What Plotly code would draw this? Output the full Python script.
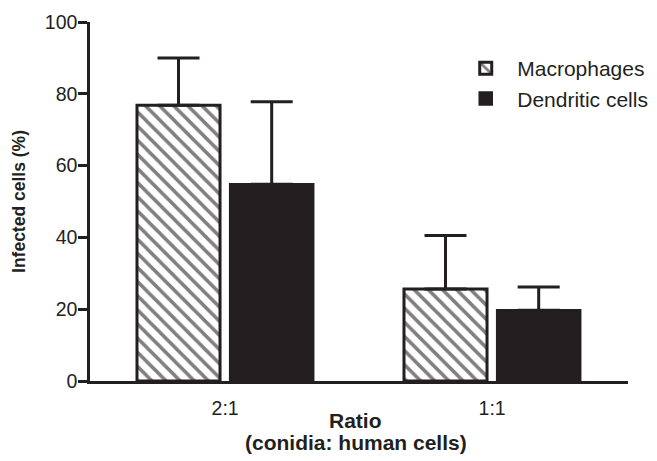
import plotly.graph_objects as go

categories = ["2:1", "1:1"]
macrophages = [76.8, 25.6]
macrophages_err = [13.2, 14.9]
dendritic = [54.8, 19.7]
dendritic_err = [23.0, 6.5]
y_ticks = [0, 20, 40, 60, 80, 100]
x_title_lines = ["<b>Ratio</b>", "<b>(conidia: human cells)</b>"]

INK = "#231f20"
FONT = "Liberation Sans, Arial, sans-serif"

fig = go.Figure()
fig.add_trace(go.Bar(
    x=categories, y=macrophages, name="Macrophages",
    width=0.311, offset=-0.330,
    marker=dict(color="white",
                pattern=dict(shape="\\", fgcolor="black", bgcolor="white", size=10, solidity=0.35),
                line=dict(color=INK, width=3)),
    error_y=dict(type="data", symmetric=False, array=macrophages_err,
                 arrayminus=[0, 0], color=INK, thickness=3, width=21),
))
fig.add_trace(go.Bar(
    x=categories, y=dendritic, name="Dendritic cells",
    width=0.311, offset=0.019,
    marker=dict(color=INK, line=dict(color=INK, width=2.5)),
    error_y=dict(type="data", symmetric=False, array=dendritic_err,
                 arrayminus=[0, 0], color=INK, thickness=3, width=21),
))

for i, line in enumerate(x_title_lines):
    fig.add_annotation(
        text=line, xref="paper", yref="paper", x=0.4935, y=0,
        xanchor="center", yanchor="middle", showarrow=False,
        yshift=-39 - 22 * i, font=dict(size=21, color=INK, family=FONT),
    )

fig.update_layout(
    width=657, height=461,
    margin=dict(l=82, r=37, t=14, b=88),
    paper_bgcolor="white", plot_bgcolor="white",
    font=dict(family=FONT, size=20, color=INK),
    barmode="overlay",
    legend=dict(x=0.677, y=0.9276, xanchor="left", yanchor="top",
                font=dict(size=21), bgcolor="rgba(0,0,0,0)",
                itemwidth=53),
    xaxis=dict(
        type="category", range=[-0.506, 1.509], automargin=False,
        showline=True, linecolor=INK, linewidth=2.5,
        ticks="", showgrid=False, zeroline=False,
        tickfont=dict(size=19.5), ticklabelstandoff=8,
    ),
    yaxis=dict(
        range=[0, 100], tickvals=y_ticks, automargin=False,
        showline=True, linecolor=INK, linewidth=2.5,
        ticks="outside", ticklen=9, tickwidth=2.5, tickcolor=INK,
        showgrid=False, zeroline=False,
        tickfont=dict(size=19.5), ticklabelstandoff=-3,
        title=dict(text="<b>Infected cells (%)</b>", font=dict(size=17.5)),
    ),
)

fig.write_html("out.html")
